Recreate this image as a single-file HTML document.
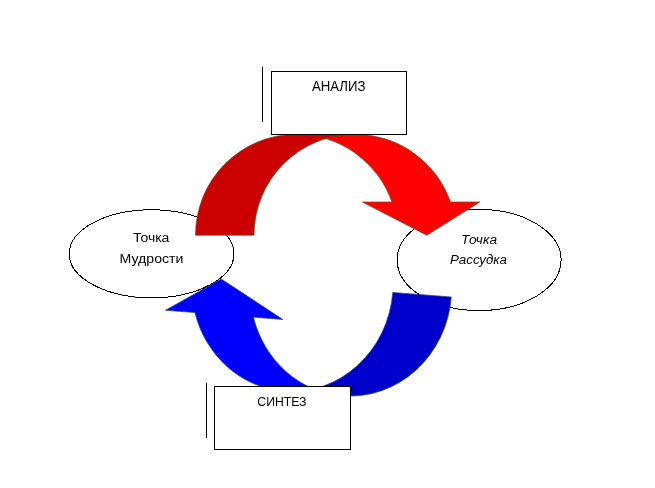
<!DOCTYPE html>
<html><head><meta charset="utf-8"><title>Diagram</title>
<style>
html,body{margin:0;padding:0;background:#fff;}
body{width:655px;height:488px;overflow:hidden;font-family:"Liberation Sans",sans-serif;}
svg{display:block;}
text{font-family:"Liberation Sans",sans-serif;fill:#000;}
</style></head><body>
<svg width="655" height="488" viewBox="0 0 655 488">
<defs><filter id="gs" x="0" y="0" width="655" height="488" filterUnits="userSpaceOnUse" color-interpolation-filters="sRGB"><feColorMatrix type="saturate" values="0"/></filter></defs>
<rect width="655" height="488" fill="#fff"/>
<ellipse shape-rendering="crispEdges" cx="151.6" cy="253.8" rx="82.4" ry="44" fill="#fff" stroke="#000" stroke-width="1"/>
<ellipse shape-rendering="crispEdges" cx="479.1" cy="260" rx="82" ry="50.6" fill="#fff" stroke="#000" stroke-width="1"/>
<g stroke="#6b4a20" stroke-width="0.7" stroke-linejoin="miter"><path d="M426.75,235.20 L362.39,202.00 L391.89,202.00 A101.00,101.00 0 0 0 296.50,134.20 L355.00,134.20 A101.00,101.00 0 0 1 450.39,202.00 L479.89,202.00 Z" fill="#ff0000"/><path d="M195.50,235.20 A101.00,101.00 0 0 1 296.50,134.20 L355.00,134.20 A101.00,101.00 0 0 0 254.00,235.20 Z" fill="#cc0000"/></g>
<g transform="translate(451.3 297) rotate(184.47)"><g stroke="#2a4a7a" stroke-width="0.7" stroke-linejoin="miter"><path d="M230.75,0.00 L166.20,-35.50 L195.70,-35.50 A100.70,107.00 0 0 0 100.70,-107.00 L159.40,-107.00 A100.70,107.00 0 0 1 254.40,-35.50 L283.90,-35.50 Z" fill="#0000ff"/><path d="M0.00,0.00 A100.70,107.00 0 0 1 100.70,-107.00 L159.40,-107.00 A100.70,107.00 0 0 0 58.70,0.00 Z" fill="#0000cc"/></g></g>
<line x1="262.5" y1="67" x2="262.5" y2="122" stroke="#000" stroke-width="1"/>
<rect x="271.5" y="71.5" width="135" height="63" fill="#fff" stroke="#000" stroke-width="1"/>
<line x1="206.5" y1="383" x2="206.5" y2="438" stroke="#000" stroke-width="1"/>
<rect x="214.5" y="386.5" width="136" height="63" fill="#fff" stroke="#000" stroke-width="1"/>
<g filter="url(#gs)">
<text x="311.9" y="91" font-size="13.8" textLength="53.5" lengthAdjust="spacingAndGlyphs">АНАЛИЗ</text>
<text x="257.3" y="406" font-size="13.4" textLength="49.2" lengthAdjust="spacingAndGlyphs">СИНТЕЗ</text>
<text x="133" y="242" font-size="12.3" textLength="36.4" lengthAdjust="spacingAndGlyphs">Точка</text>
<text x="119.6" y="263" font-size="13.7" textLength="63.8" lengthAdjust="spacingAndGlyphs">Мудрости</text>
<text x="461" y="244" font-size="12.3" font-style="italic" textLength="36" lengthAdjust="spacingAndGlyphs">Точка</text>
<text x="450" y="264.4" font-size="12.3" font-style="italic" textLength="57" lengthAdjust="spacingAndGlyphs">Рассудка</text>
</g>
</svg>
</body></html>
